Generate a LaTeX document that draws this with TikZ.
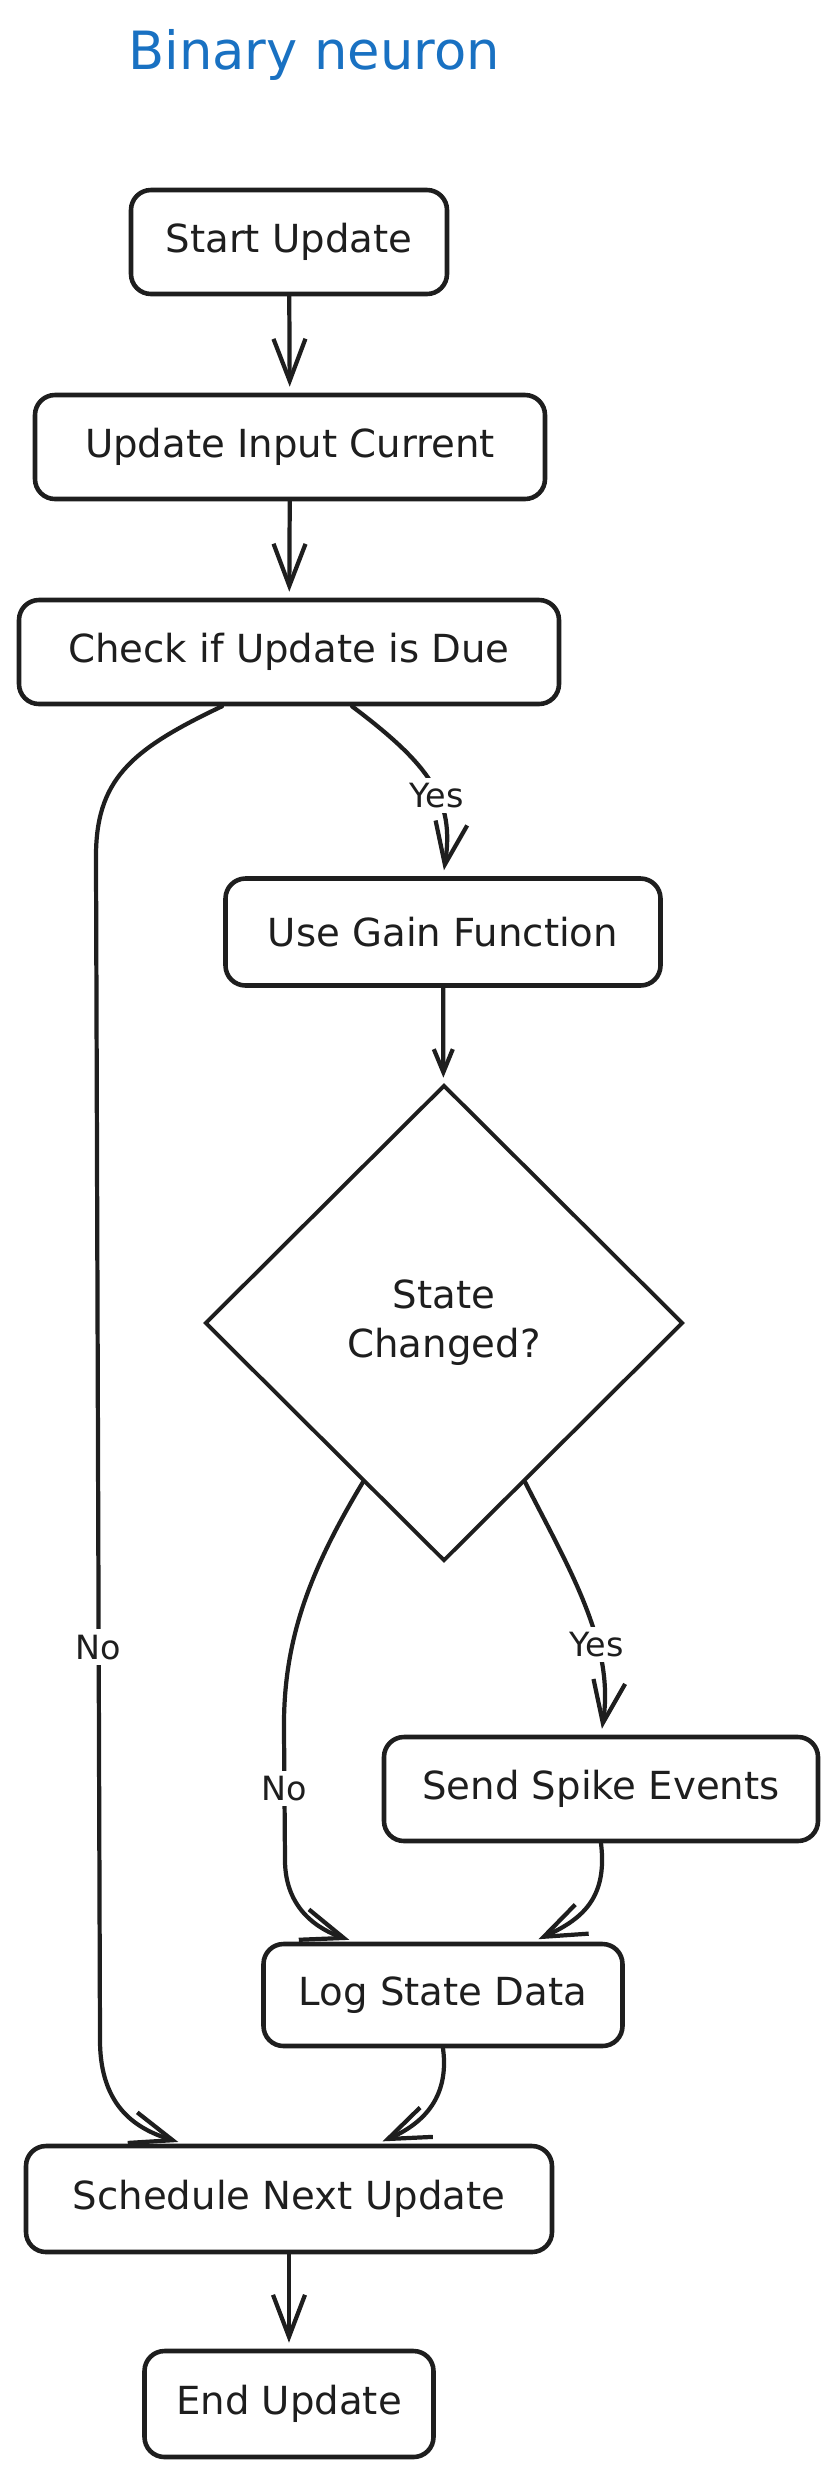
\documentclass[tikz,border=0pt]{standalone}
\usepackage{fontspec}
\setmainfont{DejaVu Sans}
\usetikzlibrary{shapes.geometric,arrows.meta}
\definecolor{ink}{HTML}{1E1E1E}
\definecolor{titleblue}{HTML}{1971C2}

\begin{document}
\begin{tikzpicture}[
    box/.style={draw=ink, line width=1.3pt, rounded corners=2mm, minimum height=1.04cm,
      text=ink, font=\fontsize{11}{13}\selectfont},
    decision/.style={draw=ink, line width=1.1pt, shape=diamond, minimum width=4.78cm,
      minimum height=4.76cm, inner sep=0pt, align=center, text=ink, font=\fontsize{11}{14}\selectfont},
    flow/.style={draw=ink, line width=1.2pt, line cap=round, line join=round, shorten >=0.6mm,
      -{Straight Barb[length=4.2mm,width=3.2mm]}},
    lbl/.style={fill=white, text=ink, inner sep=1.5pt, font=\fontsize{9.5}{11}\selectfont}]
  \useasboundingbox (0,0) rectangle (8.36,-24.76);
  \node[text=titleblue, font=\fontsize{15}{18}\selectfont] (title) at (3.14,-0.55) {Binary neuron};

  \node[box, minimum width=3.16cm] (start) at (2.89,-2.42) {Start Update};
  \node[box, minimum width=5.10cm] (input) at (2.90,-4.47) {Update Input Current};
  \node[box, minimum width=5.40cm] (check) at (2.89,-6.52) {Check if Update is Due};
  \node[box, minimum width=4.35cm, minimum height=1.07cm] (gain) at (4.43,-9.32) {Use Gain Function};
  \node[decision] (state) at (4.44,-13.23) {State\\Changed?};
  \node[box, minimum width=4.34cm] (spike) at (6.01,-17.89) {Send Spike Events};
  \node[box, minimum width=3.59cm, minimum height=1.02cm] (logd) at (4.43,-19.95) {Log State Data};
  \node[box, minimum width=5.26cm, minimum height=1.06cm] (sched) at (2.89,-21.99) {Schedule Next Update};
  \node[box, minimum width=2.89cm, minimum height=1.06cm] (finish) at (2.89,-24.04) {End Update};

  \draw[flow] (start) -- (input);
  \draw[flow] (input) -- (check);
  \draw[flow] ([xshift=6.3mm]check.south) .. controls (4.3,-7.65) and (4.55,-8.0) .. (gain.north)
    node[lbl, pos=0.57] {Yes};
  \draw[flow, -{Straight Barb[length=2.3mm,width=1.9mm]}] (gain) -- (state);
  \draw[flow] (state.-63) .. controls (5.7,-15.7) and (6.15,-16.45) .. (spike.north)
    node[lbl, pos=0.65] {Yes};
  \draw[flow] (state.-117) .. controls (3.1,-15.7) and (2.83,-16.4) .. (2.84,-17.3)
    -- node[lbl, pos=0.45] {No} (2.85,-18.6)
    .. controls (2.85,-19.1) and (3.2,-19.3) .. ([xshift=-8.8mm]logd.north);
  \draw[flow] (spike.south) .. controls (6.08,-19.0) and (5.8,-19.2) .. ([xshift=9mm]logd.north);
  \draw[flow] (logd.south) .. controls (4.5,-21.0) and (4.2,-21.25) .. ([xshift=8.8mm]sched.north);
  \draw[flow] ([xshift=-6.7mm]check.south) .. controls (1.3,-7.5) and (0.95,-7.8) .. (0.96,-8.6)
    -- node[lbl, pos=0.667] {No} (1.0,-20.4)
    .. controls (1.0,-21.1) and (1.4,-21.3) .. ([xshift=-10.5mm]sched.north);
  \draw[flow] (sched) -- (finish);
\end{tikzpicture}
\end{document}
